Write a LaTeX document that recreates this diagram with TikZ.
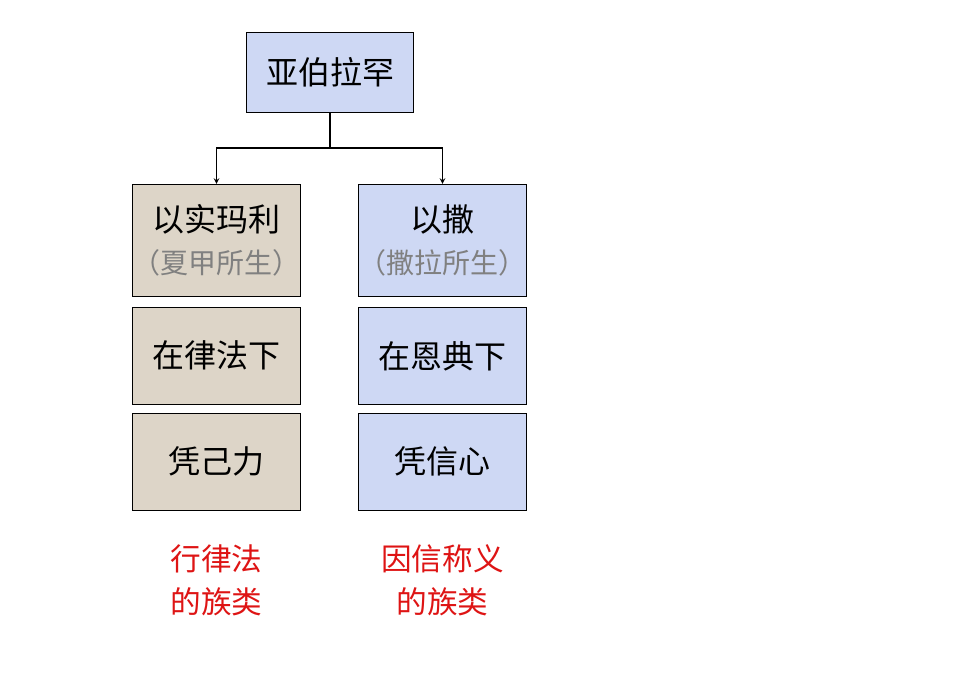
\documentclass[tikz,border=0pt]{standalone}
\usepackage{fontspec}
\usepackage{xcolor}
\setmainfont{Noto Sans CJK SC}
\definecolor{sandfill}{RGB}{221,213,200}
\definecolor{skyfill}{RGB}{206,216,244}
\definecolor{notegray}{RGB}{128,128,128}
\definecolor{tribered}{RGB}{222,20,20}

\begin{document}
\begin{tikzpicture}[x=0.75pt,y=-0.75pt,
  box/.style={draw=black, line width=0.8pt, text width=125.5pt, inner sep=0pt, align=center, font=\fontsize{24}{28}\selectfont},
  sand/.style={box, fill=sandfill},
  sky/.style={box, fill=skyfill},
  tribe/.style={text=tribered, align=center, font=\fontsize{23}{32}\selectfont}]
\useasboundingbox (0,0) rectangle (960,672);

    \node[sky, minimum height=59.5pt] (abraham) at (330,72.5) {亚伯拉罕};

    \node[sand, minimum height=84pt] (ishmael) at (216.5,240.3) {以实玛利\\[3pt]{\color{notegray}\fontsize{21}{26}\selectfont （夏甲所生）}};
    \node[sky, minimum height=84pt] (isaac) at (442.5,240.3) {以撒\\[3pt]{\color{notegray}\fontsize{21}{26}\selectfont （撒拉所生）}};

    \node[sand, minimum height=72.5pt] (law) at (216.5,355.8) {在律法下};
    \node[sky, minimum height=72.5pt] (grace) at (442.5,355.8) {在恩典下};

    \node[sand, minimum height=72.5pt] (strength) at (216.5,461.8) {凭己力};
    \node[sky, minimum height=72.5pt] (faith) at (442.5,461.8) {凭信心};

    \node[tribe] (lawtribe) at (216.5,580) {行律法\\的族类};
    \node[tribe] (faithtribe) at (442.5,580) {因信称义\\的族类};

    % draw the arrows
    \coordinate (split) at (330,148);
    \draw[line width=0.8pt] (abraham) -- (split);
    \draw[-stealth, line width=0.8pt] (split) -| (ishmael);
    \draw[-stealth, line width=0.8pt] (split) -| (isaac);

\end{tikzpicture}
\end{document}
